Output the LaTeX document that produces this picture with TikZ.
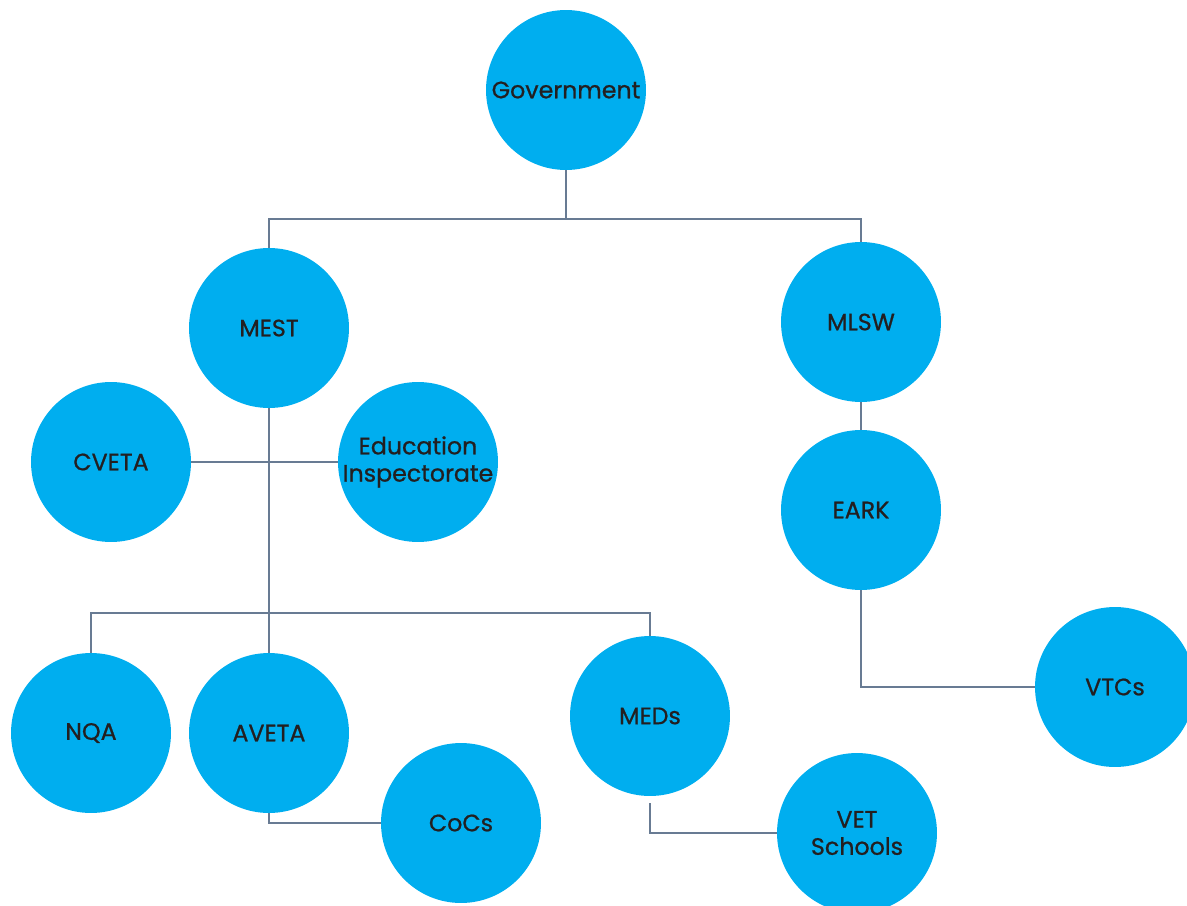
\documentclass[tikz,border=0pt]{standalone}
\usepackage{fontspec}
\setmainfont{Poppins}
\newfontfamily\orgfont{Poppins}[FakeBold=0.8]
\usepackage{tikz}
\usetikzlibrary{calc}
\definecolor{orgblue}{HTML}{00AEEF}
\definecolor{orgline}{HTML}{687B93}
\definecolor{orgtext}{HTML}{231F20}
\tikzset{
	unit/.style={circle, fill=orgblue, minimum size=3.2cm, inner sep=0pt, align=center,
		text=orgtext, font=\orgfont\fontsize{13.5}{15.5}\selectfont},
	link/.style={draw=orgline, line width=0.9pt},
}

\begin{document}
\begin{tikzpicture}[x=0.02cm, y=-0.02cm]
			\useasboundingbox (0,0) rectangle (1187,906);

			\node[unit] (gov)   at (566,90)  {Government};
			\node[unit] (mest)  at (269,328) {MEST};
			\node[unit] (mlsw)  at (861,322) {MLSW};
			\node[unit] (cveta) at (111,462) {CVETA};
			\node[unit] (ei)    at (418,462) {Education\\Inspectorate};
			\node[unit] (eark)  at (861,510) {EARK};
			\node[unit] (nqa)   at (91,733)  {NQA};
			\node[unit] (aveta) at (269,733) {AVETA};
			\node[unit] (meds)  at (650,716) {MEDs};
			\node[unit] (cocs)  at (461,823) {CoCs};
			\node[unit] (vet)   at (857,833) {VET\\Schools};
			\node[unit] (vtcs)  at (1115,687) {VTCs};

			\coordinate (govbar) at (566,219);
			\coordinate (medbar) at (269,613);

			\draw[link] (gov.south) -- (govbar);
			\draw[link] (mest.north) |- (govbar) -| (mlsw.north);
			\draw[link] (mlsw.south) -- (eark.north);
			\draw[link] (eark.south) |- (vtcs.west);
			\draw[link] (mest.south) -- (aveta.north);
			\draw[link] (cveta.east) -- (ei.west);
			\draw[link] (nqa.north) |- (medbar) -| (meds.north);
			\draw[link] (aveta.south) |- (cocs.west);
			\draw[link] ([yshift=-4pt]meds.south) |- (vet.west);
		\end{tikzpicture}
\end{document}
